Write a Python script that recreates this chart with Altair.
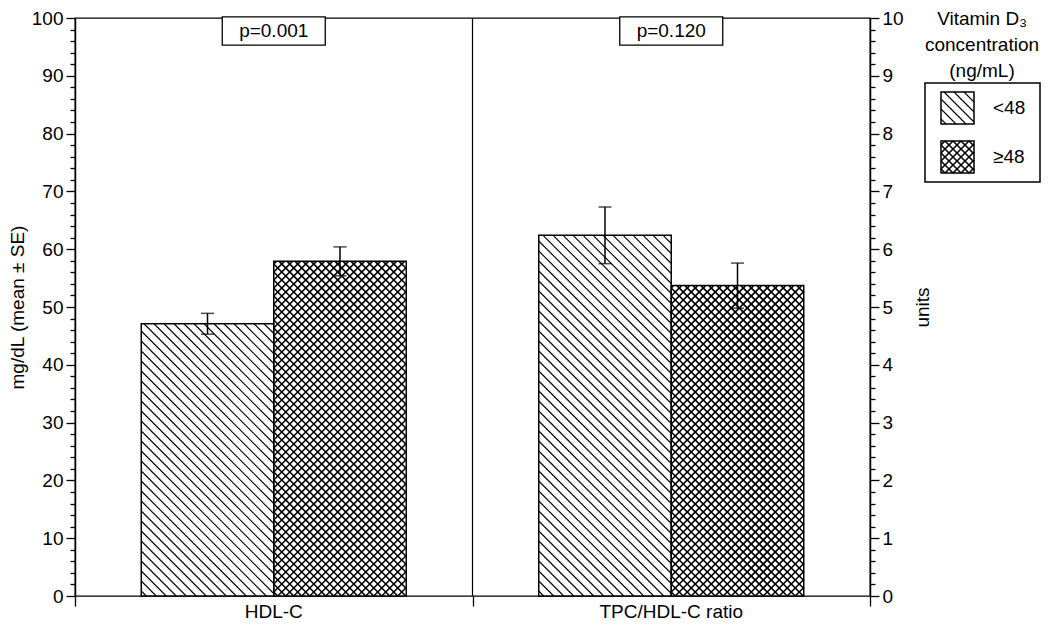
import math
import altair as alt
import pandas as pd

# ---------------- data ----------------
categories = ["HDL-C", "TPC/HDL-C ratio"]
groups = ["<48", "≥48"]
hdl_mean = [47.1, 57.9]
hdl_se = [1.8, 2.5]
ratio_mean = [6.24, 5.37]
ratio_se = [0.49, 0.39]
p_labels = ["p=0.001", "p=0.120"]
left_ticks = list(range(0, 101, 2))
right_ticks = [round(i * 0.2, 1) for i in range(51)]
legend_title = ["Vitamin D₃", "concentration", "(ng/mL)"]

# ---------------- layout ----------------
W, H = 795, 578
PAD_L, PAD_T, PAD_R, PAD_B = 67, 10, 172, 26
XMAX = 6.0
KX = W / XMAX
FONT = "Liberation Sans"
FS = 19
SINGLE_SP, CROSS_SP = 10.0, 8.0
SINGLE_W, CROSS_W = 1.1, 1.6


def hatch_segments(w, h, s, kind):
    """segments (u1, v1, u2, v2) in local pixels, u right, v up, clipped to w x h"""
    out = []
    if kind in ("back", "cross"):  # '\' : v = c - u
        c = s / 2
        while c < w + h:
            lo, hi = max(0.0, c - h), min(w, c)
            if hi > lo:
                out.append((lo, c - lo, hi, c - hi))
            c += s
    if kind in ("fwd", "cross"):  # '/' : v = u - c
        c = math.floor(-h / s) * s + s / 2
        while c < w:
            lo, hi = max(0.0, c), min(w, c + h)
            if hi > lo:
                out.append((lo, lo - c, hi, hi - c))
            c += s
    return out


kinds = ["back", "cross"]
spacings = [SINGLE_SP, CROSS_SP]
widths = [SINGLE_W, CROSS_W]

xscale = alt.Scale(domain=[0, XMAX], nice=False, zero=False)
xaxis = alt.Axis(values=[0, 3, 6], labels=False, tickSize=10, domain=False,
                 title=None, grid=False, tickColor="black", tickWidth=1.3)


def X(field):
    return alt.X(field, type="quantitative", scale=xscale, axis=xaxis)


def panel(pi, means, ses, ymax, axis):
    ky = H / ymax
    yscale = alt.Scale(domain=[0, ymax], nice=False, zero=True)

    def Y(field):
        return alt.Y(field, type="quantitative", scale=yscale, axis=axis)

    bars, hatch, caps = [], [], []
    for g in range(2):
        x0 = pi * 3 + 0.5 + g
        x1 = x0 + 1
        m, se = means[g], ses[g]
        bars.append(dict(x0=x0, x1=x1, xc=(x0 + x1) / 2, mean=m, zero=0.0,
                         lo=m - se, hi=m + se, grp=groups[g]))
        caps += [dict(xc=(x0 + x1) / 2, yv=m - se), dict(xc=(x0 + x1) / 2, yv=m + se)]
        for (u1, v1, u2, v2) in hatch_segments(KX * (x1 - x0), m * ky, spacings[g], kinds[g]):
            hatch.append(dict(hx1=x0 + u1 / KX, hx2=x0 + u2 / KX,
                              hy1=v1 / ky, hy2=v2 / ky, sw=widths[g]))
    bars = pd.DataFrame(bars)
    hatch = pd.DataFrame(hatch)
    caps = pd.DataFrame(caps)
    info = pd.DataFrame([dict(xc=pi * 3 + 1.5, p=p_labels[pi], cat=categories[pi])])

    fill = alt.Chart(bars).mark_rect(fill="white", stroke=None).encode(
        x=X("x0"), x2="x1", y=Y("mean"), y2="zero")
    lines = alt.Chart(hatch).mark_rule(color="black").encode(
        x=X("hx1"), x2="hx2", y=Y("hy1"), y2="hy2",
        strokeWidth=alt.StrokeWidth("sw:Q", scale=None))
    outline = alt.Chart(bars).mark_rect(fillOpacity=0, fill="white", stroke="black",
                                        strokeWidth=1.5).encode(
        x=X("x0"), x2="x1", y=Y("mean"), y2="zero")
    err = alt.Chart(bars).mark_rule(color="black", strokeWidth=1.5).encode(
        x=X("xc"), y=Y("lo"), y2="hi")
    cap = alt.Chart(caps).mark_tick(color="black", orient="horizontal", size=13,
                                    thickness=1.5).encode(x=X("xc"), y=Y("yv"))
    pbox = alt.Chart(info).mark_point(
        shape="M-1,-0.275L1,-0.275L1,0.275L-1,0.275Z", size=103 * 103, filled=False,
        stroke="black", strokeWidth=1.3, fill="white", opacity=1).encode(
        x=X("xc"), y=alt.value(13))
    ptext = alt.Chart(info).mark_text(fontSize=FS, font=FONT, color="black",
                                      baseline="middle").encode(
        x=X("xc"), y=alt.value(13), text="p:N")
    cat = alt.Chart(info).mark_text(fontSize=FS, font=FONT, color="black",
                                    baseline="middle").encode(
        x=X("xc"), y=alt.value(H + 16), text="cat:N")
    layers = [fill, lines, outline, err, cap, pbox, ptext, cat]
    return alt.layer(*layers)


left_axis = alt.Axis(
    orient="left", values=left_ticks, title="mg/dL (mean ± SE)", grid=False,
    tickSize={"condition": {"test": "datum.value % 10 === 0", "value": 9}, "value": 5},
    labelExpr="datum.value % 10 === 0 ? format(datum.value, 'd') : ''",
    labelOverlap=False, labelFontSize=FS, titleFontSize=FS, titlePadding=4,
    domain=True, domainWidth=1.5, tickWidth=1.3, labelPadding=3)
right_axis = alt.Axis(
    orient="right", values=right_ticks, title="units", grid=False,
    tickSize={"condition": {"test": "abs(datum.value - round(datum.value)) < 0.001",
                            "value": 9}, "value": 5},
    labelExpr="abs(datum.value - round(datum.value)) < 0.001 ? format(datum.value, '.0f') : ''",
    labelOverlap=False, labelFontSize=FS, titleFontSize=FS, titlePadding=29,
    titleAngle=270, domain=True, domainWidth=1.5, tickWidth=1.3, labelPadding=3)

pA = panel(0, hdl_mean, hdl_se, 100, left_axis)
pB = panel(1, ratio_mean, ratio_se, 10, right_axis)

divider = alt.Chart(pd.DataFrame({"d": [3.0]})).mark_rule(color="black", strokeWidth=1.2).encode(
    x=X("d"))

# ---------------- legend (pixel placed) ----------------
one = pd.DataFrame({"a": [0]})
legend_box = alt.Chart(one).mark_rect(fill="white", stroke="black", strokeWidth=1.5).encode(
    x=alt.value(850), x2=alt.value(965), y=alt.value(65), y2=alt.value(164))
legend_head = alt.Chart(one).mark_text(
    text=legend_title, lineHeight=26, fontSize=FS, font=FONT, color="black",
    align="center", baseline="middle").encode(x=alt.value(907), y=alt.value(1))

sw_boxes = [(866, 74, 899, 106), (866, 123, 899, 155)]
sw_rows, sw_lines = [], []
for g, (sx0, sy0, sx1, sy1) in enumerate(sw_boxes):
    sw_rows.append(dict(sx0=sx0, sx1=sx1, sy0=sy0, sy1=sy1, lab=groups[g],
                        lx=sx1 + 19, ly=(sy0 + sy1) / 2))
    for (u1, v1, u2, v2) in hatch_segments(sx1 - sx0, sy1 - sy0, spacings[g], kinds[g]):
        sw_lines.append(dict(a=sx0 + u1, b=sy1 - v1, c=sx0 + u2, d=sy1 - v2, sw=widths[g]))
sw_rows = pd.DataFrame(sw_rows)
sw_lines = pd.DataFrame(sw_lines)

sw_fill = alt.Chart(sw_rows).mark_rect(fill="white").encode(
    x=alt.X("sx0:Q", scale=None), x2="sx1", y=alt.Y("sy0:Q", scale=None), y2="sy1")
sw_hatch = alt.Chart(sw_lines).mark_rule(color="black").encode(
    x=alt.X("a:Q", scale=None), x2="c", y=alt.Y("b:Q", scale=None), y2="d",
    strokeWidth=alt.StrokeWidth("sw:Q", scale=None))
sw_out = alt.Chart(sw_rows).mark_rect(fillOpacity=0, fill="white", stroke="black",
                                      strokeWidth=1.5).encode(
    x=alt.X("sx0:Q", scale=None), x2="sx1", y=alt.Y("sy0:Q", scale=None), y2="sy1")
sw_text = alt.Chart(sw_rows).mark_text(fontSize=FS, font=FONT, color="black",
                                       align="left", baseline="middle").encode(
    x=alt.X("lx:Q", scale=None), y=alt.Y("ly:Q", scale=None), text="lab:N")

chart = alt.layer(
    pA, pB, divider, legend_box, legend_head, sw_fill, sw_hatch, sw_out, sw_text
).resolve_scale(y="independent").properties(
    width=W, height=H,
    autosize=alt.AutoSizeParams(type="none"),
    padding={"left": PAD_L, "top": PAD_T, "right": PAD_R, "bottom": PAD_B},
).configure_view(stroke="black", strokeWidth=1.3).configure_axis(
    labelFont=FONT, titleFont=FONT, labelColor="black", titleColor="black",
    tickColor="black", domainColor="black", titleFontWeight="normal", grid=False
).configure_text(font=FONT)

chart.save("out.html", embed_options={"renderer": "svg", "actions": False})
